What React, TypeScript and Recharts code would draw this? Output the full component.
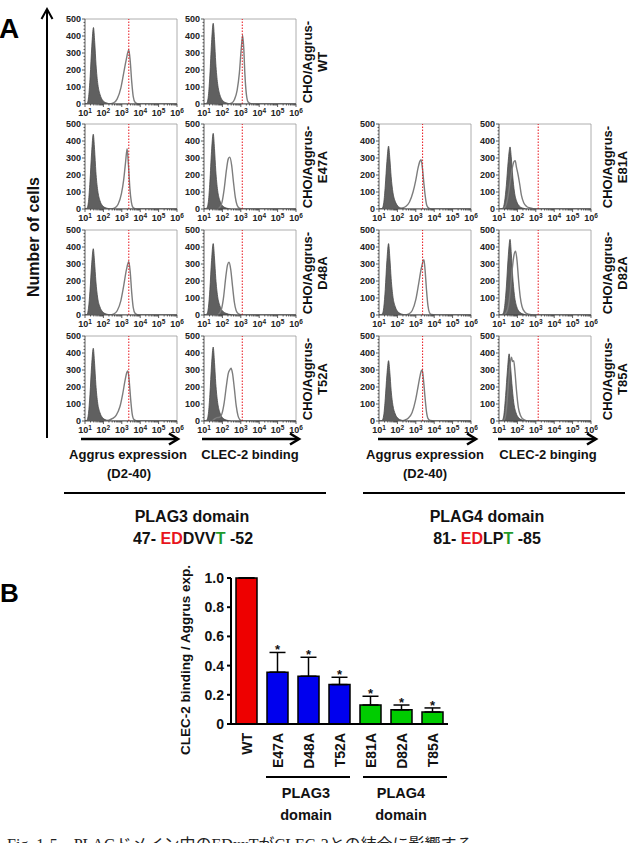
import React from "react";
import {
  ComposedChart,
  Area,
  Line,
  Bar,
  Cell,
  ErrorBar,
  LabelList,
  XAxis,
  YAxis,
  ReferenceLine
} from "recharts";

const FONT = '"Liberation Sans", Arial, Helvetica, sans-serif';

// ---- Panel A: flow cytometry histograms, [log10 intensity, cell count] ----
// filled = isotype control, outline = stained cells
const wtExprCtrl = [[1, 0], [1.12, 5], [1.2, 45], [1.28, 160], [1.37, 340], [1.46, 450], [1.53, 360], [1.6, 230], [1.7, 115], [1.82, 55], [1.96, 22], [2.15, 7], [2.45, 0], [6, 0]];
const wtExprCell = [[1, 0], [2.3, 0], [2.55, 6], [2.75, 30], [2.95, 95], [3.1, 180], [3.25, 265], [3.38, 320], [3.46, 250], [3.54, 130], [3.62, 45], [3.72, 10], [3.85, 2], [4.1, 0], [6, 0]];
const wtBindCtrl = [[1, 0], [1.15, 5], [1.24, 50], [1.32, 170], [1.41, 360], [1.5, 475], [1.57, 380], [1.64, 240], [1.74, 120], [1.86, 55], [2.0, 22], [2.2, 7], [2.5, 0], [6, 0]];
const wtBindCell = [[1, 0], [2.3, 0], [2.5, 5], [2.65, 25], [2.8, 80], [2.92, 180], [3.02, 320], [3.1, 405], [3.16, 330], [3.22, 180], [3.3, 60], [3.4, 12], [3.55, 2], [3.8, 0], [6, 0]];

const e47ExprCtrl = [[1, 0], [1.11, 5], [1.19, 45], [1.27, 160], [1.36, 330], [1.45, 440], [1.52, 350], [1.59, 220], [1.69, 110], [1.81, 50], [1.95, 20], [2.15, 6], [2.45, 0], [6, 0]];
const e47ExprCell = [[1, 0], [2.4, 0], [2.6, 5], [2.8, 28], [2.98, 90], [3.1, 170], [3.2, 270], [3.29, 355], [3.36, 260], [3.44, 120], [3.52, 40], [3.6, 10], [3.72, 2], [3.9, 0], [6, 0]];
const e47BindCtrl = [[1, 0], [1.15, 5], [1.24, 45], [1.32, 160], [1.41, 340], [1.5, 445], [1.57, 355], [1.64, 225], [1.74, 110], [1.86, 50], [2.0, 20], [2.2, 6], [2.5, 0], [6, 0]];
const e47BindCell = [[1, 0], [1.7, 0], [1.85, 8], [1.98, 40], [2.1, 120], [2.22, 230], [2.32, 295], [2.4, 305], [2.5, 260], [2.6, 160], [2.7, 70], [2.8, 22], [2.92, 5], [3.1, 0], [6, 0]];

const d48ExprCtrl = [[1, 0], [1.11, 4], [1.19, 40], [1.27, 140], [1.36, 295], [1.45, 390], [1.52, 310], [1.59, 200], [1.69, 100], [1.81, 48], [1.95, 20], [2.15, 6], [2.45, 0], [6, 0]];
const d48ExprCell = [[1, 0], [2.35, 0], [2.55, 5], [2.75, 25], [2.95, 85], [3.1, 170], [3.25, 265], [3.38, 315], [3.46, 250], [3.54, 130], [3.62, 45], [3.72, 10], [3.85, 2], [4.1, 0], [6, 0]];
const d48BindCtrl = [[1, 0], [1.15, 5], [1.24, 45], [1.32, 150], [1.41, 320], [1.5, 420], [1.57, 335], [1.64, 215], [1.74, 110], [1.86, 55], [2.0, 25], [2.2, 10], [2.5, 2], [2.8, 0], [6, 0]];
const d48BindCell = [[1, 0], [1.65, 0], [1.8, 6], [1.95, 35], [2.07, 110], [2.18, 220], [2.28, 295], [2.36, 310], [2.45, 270], [2.55, 170], [2.65, 75], [2.75, 25], [2.88, 6], [3.1, 0], [6, 0]];

const t52ExprCtrl = [[1, 0], [1.11, 5], [1.19, 45], [1.27, 155], [1.36, 325], [1.45, 428], [1.52, 340], [1.59, 215], [1.69, 105], [1.81, 50], [1.95, 20], [2.15, 6], [2.45, 0], [6, 0]];
const t52ExprCell = [[1, 0], [2.1, 0], [2.3, 5], [2.5, 15], [2.7, 35], [2.9, 85], [3.05, 160], [3.18, 240], [3.27, 285], [3.33, 295], [3.4, 240], [3.48, 130], [3.56, 45], [3.65, 10], [3.78, 2], [4, 0], [6, 0]];
const t52BindCtrl = [[1, 0], [1.15, 5], [1.24, 45], [1.32, 155], [1.41, 330], [1.5, 435], [1.57, 345], [1.64, 220], [1.74, 110], [1.86, 50], [2.0, 20], [2.2, 6], [2.5, 0], [6, 0]];
const t52BindCell = [[1, 0], [1.4, 0], [1.55, 10], [1.7, 20], [1.85, 22], [1.98, 45], [2.1, 110], [2.22, 210], [2.32, 280], [2.4, 300], [2.47, 310], [2.55, 280], [2.65, 190], [2.75, 90], [2.85, 30], [2.95, 8], [3.1, 0], [6, 0]];

const e81ExprCtrl = [[1, 0], [1.17, 4], [1.26, 38], [1.34, 135], [1.43, 280], [1.52, 370], [1.59, 295], [1.66, 190], [1.76, 95], [1.88, 45], [2.02, 18], [2.22, 5], [2.5, 0], [6, 0]];
const e81ExprCell = [[1, 0], [2.05, 0], [2.25, 5], [2.45, 15], [2.65, 40], [2.85, 100], [3.0, 170], [3.12, 240], [3.22, 280], [3.29, 290], [3.36, 240], [3.44, 150], [3.52, 70], [3.6, 20], [3.7, 5], [3.85, 0], [6, 0]];
const e81BindCtrl = [[1, 0], [1.2, 4], [1.3, 40], [1.4, 140], [1.5, 280], [1.6, 365], [1.67, 300], [1.74, 200], [1.84, 100], [1.96, 45], [2.1, 18], [2.3, 5], [2.6, 0], [6, 0]];
const e81BindCell = [[1, 0], [1.2, 0], [1.35, 15], [1.5, 80], [1.62, 170], [1.72, 240], [1.82, 280], [1.88, 284], [1.95, 245], [2.03, 205], [2.12, 150], [2.22, 80], [2.35, 35], [2.5, 15], [2.7, 6], [3.0, 0], [6, 0]];

const d82ExprCtrl = [[1, 0], [1.17, 5], [1.26, 45], [1.34, 150], [1.43, 320], [1.52, 420], [1.59, 335], [1.66, 215], [1.76, 105], [1.88, 50], [2.02, 20], [2.22, 6], [2.5, 0], [6, 0]];
const d82ExprCell = [[1, 0], [2.4, 0], [2.6, 5], [2.8, 25], [3.0, 90], [3.15, 180], [3.3, 275], [3.44, 325], [3.5, 270], [3.58, 150], [3.66, 55], [3.74, 15], [3.85, 3], [4.1, 0], [6, 0]];
const d82BindCtrl = [[1, 0], [1.2, 5], [1.3, 45], [1.4, 165], [1.5, 340], [1.6, 445], [1.67, 360], [1.74, 235], [1.84, 115], [1.96, 50], [2.1, 20], [2.3, 6], [2.6, 0], [6, 0]];
const d82BindCell = [[1, 0], [1.25, 0], [1.4, 15], [1.52, 60], [1.62, 150], [1.72, 270], [1.82, 355], [1.9, 375], [1.98, 320], [2.06, 210], [2.15, 110], [2.25, 50], [2.4, 18], [2.6, 5], [2.9, 0], [6, 0]];

const t85ExprCtrl = [[1, 0], [1.17, 4], [1.26, 36], [1.34, 130], [1.43, 270], [1.52, 355], [1.59, 285], [1.66, 180], [1.76, 90], [1.88, 42], [2.02, 17], [2.22, 5], [2.5, 0], [6, 0]];
const t85ExprCell = [[1, 0], [2.2, 0], [2.4, 5], [2.6, 18], [2.8, 50], [2.98, 120], [3.12, 200], [3.24, 270], [3.3, 295], [3.35, 300], [3.42, 240], [3.5, 140], [3.58, 55], [3.66, 15], [3.78, 3], [4, 0], [6, 0]];
const t85BindCtrl = [[1, 0], [1.18, 4], [1.27, 40], [1.36, 150], [1.46, 300], [1.55, 395], [1.62, 330], [1.7, 220], [1.8, 110], [1.92, 50], [2.06, 20], [2.26, 6], [2.55, 0], [6, 0]];
const t85BindCell = [[1, 0], [1.2, 0], [1.32, 15], [1.42, 90], [1.52, 230], [1.6, 330], [1.68, 375], [1.74, 350], [1.8, 355], [1.86, 300], [1.95, 180], [2.05, 80], [2.18, 30], [2.35, 8], [2.6, 0], [6, 0]];

// gate (red dotted line) per column, log10 intensity
const gateLog = [3.38, 3.08, 3.37, 3.13];

const xDecades = [1, 2, 3, 4, 5, 6];
const xTicks = xDecades.flatMap((d) =>
  d < 6 ? [d, ...[2, 3, 4, 5, 6, 7, 8, 9].map((k) => d + Math.log10(k))] : [d]
);
const yTicks = Array.from({ length: 26 }, (_, i) => i * 20);

const colLeft = [85, 204, 379, 499];
const rowTop = [19, 124, 230, 336];
const PLOT_W = 92;
const PLOT_H = 85;

const panels = [
  { col: 0, row: 0, ctrl: wtExprCtrl, cell: wtExprCell },
  { col: 1, row: 0, ctrl: wtBindCtrl, cell: wtBindCell },
  { col: 0, row: 1, ctrl: e47ExprCtrl, cell: e47ExprCell },
  { col: 1, row: 1, ctrl: e47BindCtrl, cell: e47BindCell },
  { col: 0, row: 2, ctrl: d48ExprCtrl, cell: d48ExprCell },
  { col: 1, row: 2, ctrl: d48BindCtrl, cell: d48BindCell },
  { col: 0, row: 3, ctrl: t52ExprCtrl, cell: t52ExprCell },
  { col: 1, row: 3, ctrl: t52BindCtrl, cell: t52BindCell },
  { col: 2, row: 1, ctrl: e81ExprCtrl, cell: e81ExprCell },
  { col: 3, row: 1, ctrl: e81BindCtrl, cell: e81BindCell },
  { col: 2, row: 2, ctrl: d82ExprCtrl, cell: d82ExprCell },
  { col: 3, row: 2, ctrl: d82BindCtrl, cell: d82BindCell },
  { col: 2, row: 3, ctrl: t85ExprCtrl, cell: t85ExprCell },
  { col: 3, row: 3, ctrl: t85BindCtrl, cell: t85BindCell }
];

const leftMutants = ["WT", "E47A", "D48A", "T52A"];
const rightMutants = ["E81A", "D82A", "T85A"];

// ---- Panel B: CLEC-2 binding / Aggrus expression ----
const mutants = ["WT", "E47A", "D48A", "T52A", "E81A", "D82A", "T85A"];
const domain = ["wt", "plag3", "plag3", "plag3", "plag4", "plag4", "plag4"];
const ratio = [1.0, 0.355, 0.327, 0.27, 0.13, 0.097, 0.082];
const sdUp = [0, 0.135, 0.13, 0.05, 0.06, 0.033, 0.028];
const significant = [false, true, true, true, true, true, true];
const ratioTicks = [0, 0.2, 0.4, 0.6, 0.8, 1.0];

const domainColor: Record<string, string> = {
  wt: "#ee0000",
  plag3: "#0000ee",
  plag4: "#00cc00"
};

const barRows = mutants.map((name, i) => ({
  name,
  domain: domain[i],
  ratio: ratio[i],
  sd: [0, sdUp[i]],
  tip: significant[i] ? ratio[i] + sdUp[i] : null
}));

const toXY = (pts: number[][]) => pts.map(([x, y]) => ({ x, y }));

function HistoXTick(props: any) {
  const { x, y, payload } = props;
  const v = payload.value as number;
  const major = Math.abs(v - Math.round(v)) < 1e-6;
  return (
    <g>
      <line x1={x} x2={x} y1={y} y2={y + (major ? 3 : 1.5)} stroke="#333" strokeWidth={0.8} />
      {major && (
        <text x={x} y={y + 12} textAnchor="middle" fontSize={9} fontWeight="bold" fontFamily={FONT} fill="#222">
          10<tspan dy={-3.5} fontSize={6.5}>{Math.round(v)}</tspan>
        </text>
      )}
    </g>
  );
}

function HistoYTick(props: any) {
  const { x, y, payload } = props;
  const v = payload.value as number;
  const major = v % 100 === 0;
  return (
    <g>
      <line x1={x - (major ? 3 : 1.5)} x2={x} y1={y} y2={y} stroke="#333" strokeWidth={0.8} />
      {major && (
        <text x={x - 4} y={y + 3.2} textAnchor="end" fontSize={9} fontWeight="bold" fontFamily={FONT} fill="#222">
          {v}
        </text>
      )}
    </g>
  );
}

function Histogram({ left, top, ctrl, cell, gate }: any) {
  const mL = 26;
  const mT = 4;
  const mR = 12;
  const xH = 16;
  return (
    <div style={{ position: "absolute", left: left - mL, top: top - mT }}>
      <ComposedChart
        width={mL + PLOT_W + mR}
        height={mT + PLOT_H + xH}
        margin={{ top: mT, right: mR, left: 0, bottom: 0 }}
      >
        <XAxis
          type="number"
          dataKey="x"
          domain={[1, 6]}
          ticks={xTicks}
          interval={0}
          height={xH}
          tickSize={0}
          tickMargin={0}
          tickLine={false}
          tick={<HistoXTick />}
          axisLine={{ stroke: "#333", strokeWidth: 0.8 }}
          allowDataOverflow
        />
        <YAxis
          type="number"
          domain={[0, 500]}
          ticks={yTicks}
          interval={0}
          width={mL}
          tickSize={0}
          tickMargin={0}
          tickLine={false}
          tick={<HistoYTick />}
          axisLine={{ stroke: "#333", strokeWidth: 0.8 }}
          allowDataOverflow
        />
        <ReferenceLine y={500} stroke="#9a9a9a" strokeWidth={0.8} />
        <ReferenceLine x={6} stroke="#9a9a9a" strokeWidth={0.8} />
        <Area
          data={toXY(ctrl)}
          dataKey="y"
          type="monotone"
          fill="#606060"
          fillOpacity={1}
          stroke="#4a4a4a"
          strokeWidth={0.8}
          isAnimationActive={false}
        />
        <Line
          data={toXY(cell)}
          dataKey="y"
          type="monotone"
          stroke="#7d7d7d"
          strokeWidth={1.4}
          dot={false}
          isAnimationActive={false}
        />
        <ReferenceLine x={gate} stroke="#e8141c" strokeWidth={1} strokeDasharray="1.5 1.5" />
      </ComposedChart>
    </div>
  );
}

function BarXTick(props: any) {
  const { x, y, payload } = props;
  return (
    <text
      transform={`translate(${x},${y + 9}) rotate(-90)`}
      textAnchor="end"
      dominantBaseline="central"
      fontSize={14}
      fontWeight="bold"
      fontFamily={FONT}
      fill="#111"
    >
      {payload.value}
    </text>
  );
}

function Star(props: any) {
  const { x, y, value } = props;
  if (value == null || y == null) return null;
  return (
    <text x={x} y={y + 2} textAnchor="middle" fontSize={13} fontWeight="bold" fontFamily={FONT} fill="#111">
      *
    </text>
  );
}

function RatioChart() {
  const yW = 44;
  const mT = 8;
  const plotW = 217;
  const plotH = 146;
  const xH = 50;
  return (
    <div style={{ position: "absolute", left: 231 - yW, top: 578 - mT }}>
      <ComposedChart
        width={yW + plotW + 6}
        height={mT + plotH + xH}
        data={barRows}
        margin={{ top: mT, right: 6, left: 0, bottom: 0 }}
      >
        <XAxis
          dataKey="name"
          type="category"
          height={xH}
          interval={0}
          tickSize={0}
          tickMargin={0}
          tickLine={false}
          tick={<BarXTick />}
          axisLine={{ stroke: "#000", strokeWidth: 2 }}
        />
        <YAxis
          type="number"
          domain={[0, 1]}
          ticks={ratioTicks}
          interval={0}
          width={yW}
          tickSize={4}
          tickMargin={3}
          tickLine={{ stroke: "#000", strokeWidth: 2 }}
          axisLine={{ stroke: "#000", strokeWidth: 2 }}
          tick={{ fontSize: 14, fontWeight: "bold", fill: "#111", fontFamily: FONT }}
          tickFormatter={(v: number) => (v === 0 ? "0" : v.toFixed(1))}
        />
        <Bar dataKey="ratio" barSize={21} stroke="#000" strokeWidth={1.5} isAnimationActive={false}>
          {barRows.map((r, i) => (
            <Cell key={i} fill={domainColor[r.domain]} />
          ))}
          <ErrorBar dataKey="sd" direction="y" width={8} stroke="#000" strokeWidth={1.5} />
        </Bar>
        <Line dataKey="tip" stroke="none" dot={false} activeDot={false} isAnimationActive={false}>
          <LabelList dataKey="tip" content={<Star />} />
        </Line>
      </ComposedChart>
    </div>
  );
}

function SampleLabel({ x, cy, name }: { x: number; cy: number; name: string }) {
  return (
    <text
      transform={`translate(${x},${cy}) rotate(-90)`}
      textAnchor="middle"
      fontSize={13}
      fontWeight="bold"
      fill="#111"
    >
      <tspan x={0} y={0}>CHO/Aggrus-</tspan>
      <tspan x={0} y={15}>{name}</tspan>
    </text>
  );
}

function AxisArrow({ x1, x2, y }: { x1: number; x2: number; y: number }) {
  return (
    <g stroke="#000" fill="none">
      <line x1={x1} y1={y} x2={x2 - 1} y2={y} strokeWidth={2.6} />
      <polyline points={`${x2 - 9},${y - 5.5} ${x2},${y} ${x2 - 9},${y + 5.5}`} strokeWidth={2.6} />
    </g>
  );
}

export default function App() {
  return (
    <div
      style={{
        position: "absolute",
        left: 0,
        top: 0,
        width: 631,
        height: 843,
        overflow: "hidden",
        background: "#fff"
      }}
    >
      <svg
        width={631}
        height={843}
        style={{ position: "absolute", left: 0, top: 0, fontFamily: FONT }}
      >
        {/* panel A */}
        <text x={-1} y={38} fontSize={28} fontWeight="bold" fill="#000">A</text>
        <line x1={47} y1={438} x2={47} y2={10} stroke="#000" strokeWidth={2} />
        <polyline points="41.5,19 47,9 52.5,19" fill="none" stroke="#000" strokeWidth={2} />
        <text
          transform="translate(38.5,237) rotate(-90)"
          textAnchor="middle"
          fontSize={16}
          fontWeight="bold"
          fill="#111"
        >
          Number of cells
        </text>

        {leftMutants.map((m, i) => (
          <SampleLabel key={m} x={312} cy={rowTop[i] + 43} name={m} />
        ))}
        {rightMutants.map((m, i) => (
          <SampleLabel key={m} x={612} cy={rowTop[i + 1] + 43} name={m} />
        ))}

        <AxisArrow x1={81} x2={178} y={439} />
        <AxisArrow x1={202} x2={299} y={439} />
        <AxisArrow x1={378} x2={476} y={439} />
        <AxisArrow x1={498} x2={596} y={439} />

        <g fontSize={13} fontWeight="bold" fill="#111" textAnchor="middle">
          <text x={128} y={459}>Aggrus expression</text>
          <text x={129} y={478}>(D2-40)</text>
          <text x={250} y={459}>CLEC-2 binding</text>
          <text x={425} y={459}>Aggrus expression</text>
          <text x={425} y={478}>(D2-40)</text>
          <text x={548} y={459}>CLEC-2 binging</text>
        </g>

        <line x1={64} y1={493} x2={326} y2={493} stroke="#000" strokeWidth={2} />
        <line x1={363} y1={493} x2={625} y2={493} stroke="#000" strokeWidth={2} />

        <g fontSize={16} fontWeight="bold" fill="#111" textAnchor="middle">
          <text x={192} y={522}>PLAG3 domain</text>
          <text x={193} y={544}>
            {"47- "}
            <tspan fill="#e8141c">ED</tspan>
            {"DVV"}
            <tspan fill="#1e9a2a">T</tspan>
            {" -52"}
          </text>
          <text x={487} y={522}>PLAG4 domain</text>
          <text x={487} y={544}>
            {"81- "}
            <tspan fill="#e8141c">ED</tspan>
            {"LP"}
            <tspan fill="#1e9a2a">T</tspan>
            {" -85"}
          </text>
        </g>

        {/* panel B */}
        <text x={0} y={602} fontSize={26} fontWeight="bold" fill="#000">B</text>
        <text
          transform="translate(190,660) rotate(-90)"
          textAnchor="middle"
          fontSize={13.5}
          fontWeight="bold"
          fill="#111"
        >
          CLEC-2 binding / Aggrus exp.
        </text>
        <line x1={266} y1={777} x2={350} y2={777} stroke="#000" strokeWidth={2} />
        <line x1={363} y1={777} x2={447} y2={777} stroke="#000" strokeWidth={2} />
        <g fontSize={14.5} fontWeight="bold" fill="#111" textAnchor="middle">
          <text x={306} y={798}>PLAG3</text>
          <text x={306} y={820}>domain</text>
          <text x={401} y={798}>PLAG4</text>
          <text x={401} y={820}>domain</text>
        </g>

        <text
          x={7}
          y={850}
          fontSize={16}
          fill="#222"
          fontFamily={'"Liberation Serif", "Noto Sans CJK JP", serif'}
        >
          Fig. 1-5　PLAGドメイン中のEDxxTがCLEC-2との結合に影響する
        </text>
      </svg>

      {panels.map((p, i) => (
        <Histogram
          key={i}
          left={colLeft[p.col]}
          top={rowTop[p.row]}
          ctrl={p.ctrl}
          cell={p.cell}
          gate={gateLog[p.col]}
        />
      ))}

      <RatioChart />
    </div>
  );
}
